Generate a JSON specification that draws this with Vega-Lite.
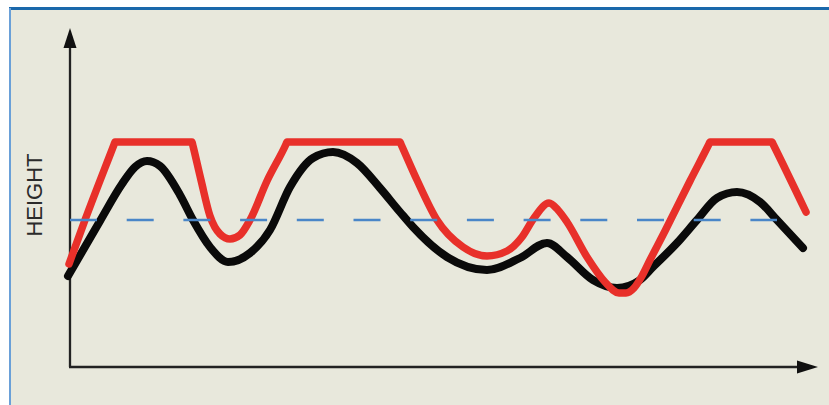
{
  "$schema": "https://vega.github.io/schema/vega-lite/v6.json",
  "width": 829,
  "height": 405,
  "autosize": {"type": "none"},
  "padding": 0,
  "background": "#ffffff",
  "config": {"view": {"stroke": null, "fill": "#e8e8dc"}},
  "datasets": {
    "black": [
      {"x": -2, "y": 91}, {"x": 30, "y": 146}, {"x": 52, "y": 183}, {"x": 65, "y": 200},
      {"x": 77, "y": 206}, {"x": 90, "y": 201}, {"x": 110, "y": 172}, {"x": 123, "y": 147},
      {"x": 140, "y": 120}, {"x": 158, "y": 105}, {"x": 180, "y": 114}, {"x": 200, "y": 137},
      {"x": 220, "y": 180}, {"x": 243, "y": 209}, {"x": 263, "y": 215}, {"x": 287, "y": 204},
      {"x": 310, "y": 179}, {"x": 330, "y": 155}, {"x": 343, "y": 140}, {"x": 377, "y": 110},
      {"x": 417, "y": 97}, {"x": 450, "y": 109}, {"x": 477, "y": 124}, {"x": 497, "y": 110},
      {"x": 523, "y": 87}, {"x": 547, "y": 79}, {"x": 570, "y": 87}, {"x": 583, "y": 100},
      {"x": 607, "y": 124}, {"x": 627, "y": 147}, {"x": 647, "y": 169}, {"x": 667, "y": 175},
      {"x": 690, "y": 165}, {"x": 707, "y": 147}, {"x": 733, "y": 119}
    ],
    "red": [
      {"x": -1, "y": 103}, {"x": 15, "y": 147}, {"x": 44, "y": 222.4}, {"x": 45, "y": 225},
      {"x": 122, "y": 225}, {"x": 123, "y": 221}, {"x": 131, "y": 187}, {"x": 140, "y": 151},
      {"x": 150, "y": 133}, {"x": 160, "y": 128}, {"x": 170, "y": 132}, {"x": 180, "y": 147},
      {"x": 197, "y": 186}, {"x": 216, "y": 222.8}, {"x": 217, "y": 225}, {"x": 330, "y": 225},
      {"x": 331, "y": 222.8}, {"x": 347, "y": 187}, {"x": 367, "y": 147}, {"x": 393, "y": 120},
      {"x": 417, "y": 111}, {"x": 437, "y": 116}, {"x": 452, "y": 130}, {"x": 464, "y": 149},
      {"x": 479, "y": 164}, {"x": 488, "y": 157}, {"x": 497, "y": 145}, {"x": 517, "y": 110},
      {"x": 535, "y": 85}, {"x": 549, "y": 74}, {"x": 556, "y": 74}, {"x": 564, "y": 79},
      {"x": 572, "y": 91}, {"x": 580, "y": 107}, {"x": 595, "y": 136}, {"x": 620, "y": 186},
      {"x": 639, "y": 223}, {"x": 640, "y": 225},
      {"x": 702, "y": 225}, {"x": 703, "y": 223}, {"x": 736, "y": 155}
    ]
  },
  "encoding": {
    "x": {"field": "x", "type": "quantitative", "scale": {"domain": [-70, 759], "nice": false, "zero": false}, "axis": null},
    "y": {"field": "y", "type": "quantitative", "scale": {"domain": [-38, 367], "nice": false, "zero": false}, "axis": null}
  },
  "layer": [
    {
      "data": {"values": [
        {"x": -70, "x2": 759, "y": 360, "y2": 367},
        {"x": -70, "x2": -61, "y": -38, "y2": 367}
      ]},
      "mark": {"type": "rect", "color": "#ffffff"},
      "encoding": {"x2": {"field": "x2"}, "y2": {"field": "y2"}}
    },
    {
      "data": {"values": [{"x": -61, "x2": 759, "y": 358.5}]},
      "mark": {"type": "rule", "color": "#1a68ab", "strokeWidth": 3},
      "encoding": {"x2": {"field": "x2"}}
    },
    {
      "data": {"values": [{"x": -60, "y": -38, "y2": 359}]},
      "mark": {"type": "rule", "color": "#6aa0d8", "strokeWidth": 2},
      "encoding": {"y2": {"field": "y2"}}
    },
    {
      "data": {"values": [{"x": 0, "y": 0, "y2": 320}]},
      "mark": {"type": "rule", "color": "#222222", "strokeWidth": 2.3},
      "encoding": {"y2": {"field": "y2"}}
    },
    {
      "data": {"values": [{"x": -1, "x2": 730, "y": 0}]},
      "mark": {"type": "rule", "color": "#222222", "strokeWidth": 2.3},
      "encoding": {"x2": {"field": "x2"}}
    },
    {
      "data": {"values": [{"x": 0, "y": 329}]},
      "mark": {"type": "point", "shape": "M0,-1L0.65,1L-0.65,1Z", "size": 400, "filled": true, "color": "#111111", "opacity": 1}
    },
    {
      "data": {"values": [{"x": 737.5, "y": 0}]},
      "mark": {"type": "point", "shape": "M1,0L-1,0.62L-1,-0.62Z", "size": 441, "filled": true, "color": "#111111", "opacity": 1}
    },
    {
      "data": {"values": [{"x": -35, "y": 172, "label": "HEIGHT"}]},
      "mark": {"type": "text", "angle": 270, "align": "center", "baseline": "middle", "font": "Liberation Sans", "fontSize": 22, "color": "#2b2b2b"},
      "encoding": {"text": {"field": "label"}}
    },
    {
      "data": {"name": "black"},
      "mark": {"type": "line", "color": "#0a0a0a", "strokeWidth": 8, "interpolate": "monotone", "strokeCap": "round", "strokeJoin": "round"}
    },
    {
      "data": {"name": "red"},
      "mark": {"type": "line", "color": "#e8302a", "strokeWidth": 7.5, "interpolate": "monotone", "strokeCap": "round", "strokeJoin": "round"}
    },
    {
      "data": {"values": [{"x": 0, "x2": 707, "y": 147}]},
      "mark": {"type": "rule", "color": "#4a86c8", "strokeWidth": 2.5, "strokeDash": [27, 29.7]},
      "encoding": {"x2": {"field": "x2"}}
    }
  ]
}
